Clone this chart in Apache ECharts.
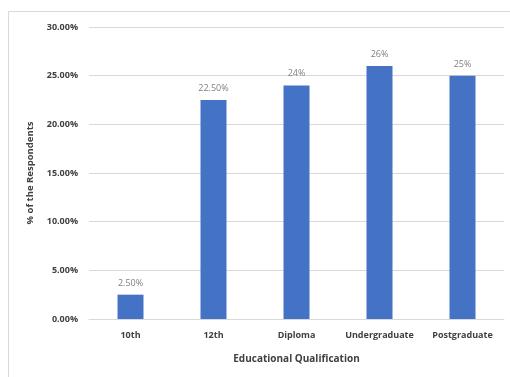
<!DOCTYPE html>
<html>
<head>
<meta charset="utf-8">
<script src="https://cdn.jsdelivr.net/npm/echarts@6/dist/echarts.min.js"></script>
<style>
  html, body { margin: 0; padding: 0; background: #fff; }
  #chart { width: 510px; height: 377px; }
</style>
</head>
<body>
<div id="chart"></div>
<script>
// Share of respondents by educational qualification
const categories = ['10th', '12th', 'Diploma', 'Undergraduate', 'Postgraduate'];
const shares = [2.5, 22.5, 24, 26, 25];
const shareLabels = ['2.50%', '22.50%', '24%', '26%', '25%'];
const yTicks = { min: 0, max: 30, step: 5 };

const font = '"Open Sans", "Liberation Sans", sans-serif';
const chart = echarts.init(document.getElementById('chart'));

chart.setOption({
  animation: false,
  graphic: [{
    type: 'rect',
    shape: { x: 8.5, y: 11.5, width: 520, height: 400 },
    style: { fill: 'none', stroke: '#d9d9d9', lineWidth: 1 },
    silent: true
  }],
  grid: { left: 89, right: 6, top: 27, bottom: 58 },
  xAxis: {
    type: 'category',
    data: categories,
    axisLine: { lineStyle: { color: '#d9d9d9' } },
    axisTick: { show: false },
    axisLabel: { interval: 0, color: '#404040', fontSize: 9, fontWeight: 'bold', fontFamily: font, margin: 12 },
    name: 'Educational Qualification',
    nameLocation: 'middle',
    nameGap: 35,
    nameTextStyle: { color: '#404040', fontSize: 10, fontWeight: 'bold', fontFamily: font }
  },
  yAxis: {
    type: 'value',
    min: yTicks.min,
    max: yTicks.max,
    interval: yTicks.step,
    axisLine: { show: false },
    axisTick: { show: false },
    splitLine: { lineStyle: { color: '#d9d9d9' } },
    axisLabel: {
      color: '#404040', fontSize: 9, fontWeight: 'bold', fontFamily: font, margin: 11,
      formatter: v => v.toFixed(2) + '%'
    },
    name: '% of the Respondents',
    nameLocation: 'middle',
    nameGap: 54,
    nameTextStyle: { color: '#404040', fontSize: 9.5, fontWeight: 'bold', fontFamily: font }
  },
  series: [{
    type: 'bar',
    data: shares,
    barWidth: 26,
    itemStyle: { color: '#4472c4' },
    label: {
      show: true,
      position: 'top',
      distance: 7,
      color: '#808080',
      fontSize: 9,
      fontFamily: font,
      formatter: p => shareLabels[p.dataIndex]
    }
  }]
});
</script>
</body>
</html>
